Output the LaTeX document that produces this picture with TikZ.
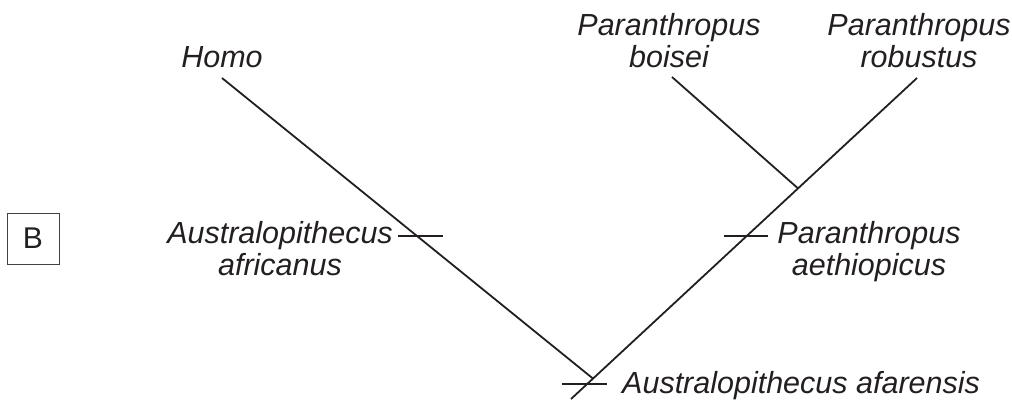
\documentclass[tikz,border=0pt]{standalone}
\usepackage{fontspec}
\setmainfont{Liberation Sans}
\usetikzlibrary{calc}
\definecolor{ink}{HTML}{231F20}
\begin{document}
\begin{tikzpicture}[x=1pt,y=-1pt,
  lbl/.style={font=\fontsize{30.5}{32}\selectfont\itshape, text=ink, inner sep=0pt, align=center, anchor=base},
  branch/.style={draw=ink, line width=1.8pt},
  tick/.style={draw=ink, line width=1.5pt},
  boxlbl/.style={draw=ink!85, line width=1pt, minimum width=52pt, minimum height=51pt, inner sep=0pt, text=ink, font=\fontsize{30}{32}\selectfont}]
\useasboundingbox (0,0) rectangle (1012,399);
% labels (base anchor = baseline of last line)
\node[lbl] (homo) at (222,67) {Homo};
\node[lbl] (boisei) at (669,67) {Paranthropus\\boisei};
\node[lbl] (robustus) at (919,67) {Paranthropus\\robustus};
\node[lbl] (africanus) at (280,275) {Australopithecus\\africanus};
\node[lbl] (aethiopicus) at (869,275) {Paranthropus\\aethiopicus};
\node[lbl, anchor=base west] (afarensis) at (622,393) {Australopithecus afarensis};
\node[boxlbl] (B) at (33,238.5) {B};
% branch points
\coordinate (bot) at (571,399);
\coordinate (rtop) at (917,78);
\coordinate (htop) at (222,78);
\coordinate (btop) at (672,77);
\coordinate (root) at ($(bot)!0.0636!(rtop)$);
\coordinate (junc) at ($(bot)!0.6561!(rtop)$);
% branches
\draw[branch] (bot) -- (rtop);
\draw[branch] (htop) -- (root);
\draw[branch] (btop) -- (junc);
% ticks
\coordinate (lt1) at (398,236); \coordinate (lt2) at (443,236);
\coordinate (rt1) at (724,236); \coordinate (rt2) at (768,236);
\coordinate (ot1) at (562,384); \coordinate (ot2) at (607,384);
\draw[tick] (lt1) -- (lt2);
\draw[tick] (rt1) -- (rt2);
\draw[tick] (ot1) -- (ot2);
\end{tikzpicture}
\end{document}
